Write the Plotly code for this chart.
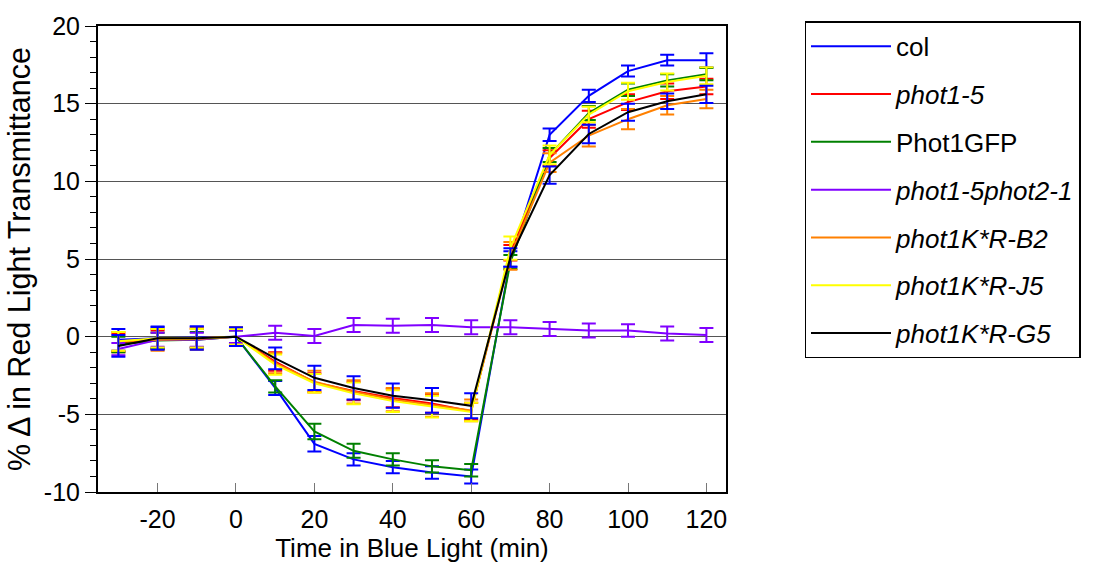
import plotly.graph_objects as go

time_min = [-30, -20, -10, 0, 10, 20, 30, 40, 50, 60, 70, 80, 90, 100, 110, 120]

col = [-0.2, -0.1, -0.05, 0, -3.3, -6.9, -7.9, -8.4, -8.75, -9.0, 5.0, 13.0, 15.5, 17.1, 17.8, 17.8]
col_err = [0.7, 0.7, 0.7, 0.5, 0.45, 0.5, 0.4, 0.4, 0.4, 0.45, 0.5, 0.4, 0.4, 0.35, 0.35, 0.45]

phot1_5 = [-0.4, -0.2, -0.1, 0, -1.6, -2.95, -3.5, -3.95, -4.3, -4.8, 5.4, 11.5, 14.0, 15.1, 15.8, 16.1]
phot1_5_err = [0.6, 0.6, 0.6, 0.5, 0.6, 0.6, 0.6, 0.6, 0.6, 0.55, 0.5, 0.5, 0.55, 0.5, 0.5, 0.5]

phot1gfp = [-0.5, -0.25, -0.2, 0, -3.2, -6.1, -7.35, -7.9, -8.35, -8.6, 4.8, 11.7, 14.4, 15.9, 16.5, 16.9]
phot1gfp_err = [0.5, 0.5, 0.5, 0.4, 0.4, 0.5, 0.45, 0.4, 0.4, 0.4, 0.45, 0.45, 0.45, 0.4, 0.4, 0.4]

phot1_5phot2_1 = [-0.8, -0.2, -0.2, 0, 0.25, 0.05, 0.75, 0.7, 0.75, 0.6, 0.6, 0.5, 0.4, 0.4, 0.2, 0.1]
phot1_5phot2_1_err = [0.4, 0.45, 0.45, 0.4, 0.45, 0.45, 0.45, 0.45, 0.45, 0.45, 0.45, 0.45, 0.45, 0.4, 0.45, 0.45]

kr_b2 = [-0.3, -0.2, -0.15, 0, -1.7, -2.9, -3.55, -4.05, -4.4, -4.75, 5.2, 11.2, 12.95, 14.0, 14.9, 15.3]
kr_b2_err = [0.6, 0.7, 0.7, 0.6, 0.65, 0.7, 0.75, 0.75, 0.75, 0.7, 0.9, 0.6, 0.7, 0.65, 0.6, 0.6]

kr_j5 = [-0.3, -0.1, -0.1, 0, -1.8, -3.0, -3.65, -4.15, -4.5, -4.85, 5.7, 11.7, 14.3, 15.8, 16.4, 16.8]
kr_j5_err = [0.6, 0.6, 0.6, 0.5, 0.65, 0.6, 0.7, 0.7, 0.7, 0.6, 0.75, 0.6, 0.5, 0.55, 0.55, 0.55]

kr_g5 = [-0.6, -0.1, -0.1, 0, -1.4, -2.65, -3.3, -3.8, -4.1, -4.45, 5.1, 10.4, 13.05, 14.45, 15.15, 15.6]
kr_g5_err = [0.7, 0.75, 0.75, 0.6, 0.7, 0.78, 0.75, 0.78, 0.8, 0.8, 0.6, 0.55, 0.6, 0.55, 0.5, 0.55]

series_names = ["col", "<i>phot1-5</i>", "Phot1GFP", "<i>phot1-5phot2-1</i>",
                "<i>phot1K*R-B2</i>", "<i>phot1K*R-J5</i>", "<i>phot1K*R-G5</i>"]
series_values = [col, phot1_5, phot1gfp, phot1_5phot2_1, kr_b2, kr_j5, kr_g5]
series_errors = [col_err, phot1_5_err, phot1gfp_err, phot1_5phot2_1_err, kr_b2_err, kr_j5_err, kr_g5_err]
line_colors = ["#0000ff", "#ff0000", "#008000", "#8000ff", "#ff8000", "#ffff00", "#000000"]
err_colors = ["#0000ff", "#ff0000", "#008000", "#8000ff", "#ff8000", "#ffff00", "#0000ff"]

x_ticks = [-20, 0, 20, 40, 60, 80, 100, 120]
y_ticks = [-10, -5, 0, 5, 10, 15, 20]

FONT = "Liberation Sans, Arial, Helvetica, sans-serif"

fig = go.Figure()
for i, (name, vals, errs) in enumerate(zip(series_names, series_values, series_errors)):
    fig.add_trace(go.Scatter(
        x=time_min, y=vals, name=name, mode="lines",
        legendgroup=f"g{i}",
        line=dict(color=line_colors[i], width=2),
        error_y=dict(type="data", array=errs, visible=True,
                     color=err_colors[i], thickness=2, width=7),
    ))

fig.update_layout(
    width=1110, height=567,
    margin=dict(l=98, r=384, t=20, b=75),
    paper_bgcolor="white", plot_bgcolor="white",
    font=dict(family=FONT, size=25, color="black"),
    showlegend=True,
    legend=dict(
        x=1.125, y=1.01, xanchor="left", yanchor="top",
        bordercolor="black", borderwidth=1.5, bgcolor="white",
        font=dict(family=FONT, size=26, color="black"),
        traceorder="grouped", tracegroupgap=11,
        itemwidth=80, maxheight=1,
    ),
    xaxis=dict(
        range=[-35.2, 125], tickvals=x_ticks, ticktext=[str(v) for v in x_ticks],
        ticks="inside", ticklen=9, tickcolor="#777", tickwidth=1,
        showline=True, linecolor="black", linewidth=2, mirror=True,
        showgrid=False, zeroline=False,
        ticklabelstandoff=4,
        title=dict(text="Time in Blue Light (min)", font=dict(size=26), standoff=2),
        tickfont=dict(size=25),
    ),
    yaxis=dict(
        range=[-10, 20], tickvals=y_ticks, ticktext=[str(v) for v in y_ticks],
        ticks="outside", ticklen=11, tickcolor="black", tickwidth=1,
        minor=dict(dtick=1, ticks="outside", ticklen=6, tickcolor="black", showgrid=False),
        showline=True, linecolor="black", linewidth=2, mirror=True,
        showgrid=True, gridcolor="#555", gridwidth=1, zeroline=False,
        title=dict(text="% Δ in Red Light Transmittance", font=dict(size=30.5), standoff=4),
        tickfont=dict(size=25),
    ),
)

fig.write_html("out.html")
